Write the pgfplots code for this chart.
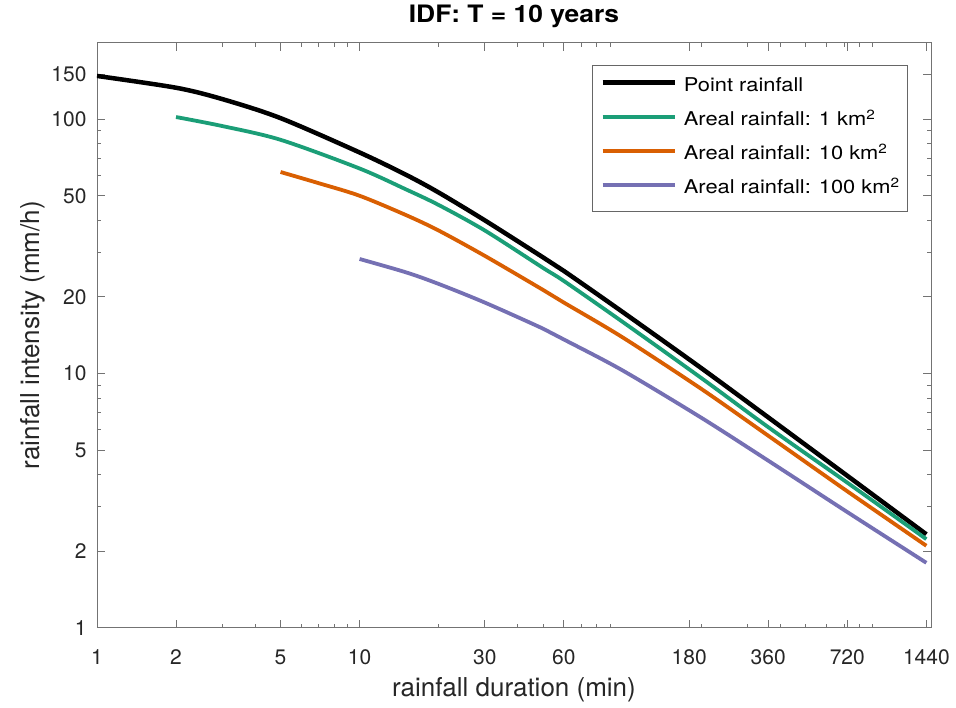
\documentclass[border=0pt]{standalone}
\usepackage{pgfplots}
\pgfplotsset{compat=1.18}
\usepackage{fontspec}
\setmainfont{TeX Gyre Heros}
\newfontfamily\wide[FakeStretch=1.15]{TeX Gyre Heros}
\newfontfamily\widet[FakeStretch=1.1]{TeX Gyre Heros}
\definecolor{cgreen}{HTML}{1B9E77}
\definecolor{corange}{HTML}{D95F02}
\definecolor{cpurple}{HTML}{7570B3}
\definecolor{txt}{HTML}{262626}
\begin{document}
\begin{tikzpicture}
\begin{axis}[
  scale only axis,
  width=834pt, height=585pt,
  xmode=log, ymode=log,
  xmin=1, xmax=1500, ymin=1, ymax=200,
  /pgf/number format/assume math mode=true,
  xtick={1,2,5,10,30,60,180,360,720,1440},
  xticklabels={1,2,5,10,30,60,180,360,720,1440},
  minor xtick={3,4,6,7,8,9,20,40,50,70,80,90,200,300,400,500,600,700,800,900},
  ytick={1,2,5,10,20,50,100,150},
  yticklabels={1,2,5,10,20,50,100,150},
  minor ytick={3,4,6,7,8,9,30,40,60,70,80,90},
  tick align=inside,
  major tick length=8pt, minor tick length=4pt,
  axis line style={black!55, line width=0.9pt},
  every tick/.style={black!55, line width=0.9pt},
  every minor tick/.style={black!55, line width=0.9pt},
  tick label style={font=\fontsize{21}{24}\selectfont, text=txt},
  xticklabel style={anchor=base, yshift=-37pt},
  yticklabel style={anchor=east, xshift=-7pt},
  xlabel={rainfall duration (min)},
  ylabel={rainfall intensity (mm/h)},
  label style={font=\fontsize{26}{30}\selectfont, text=txt},
  xlabel style={at={(rel axis cs:0.5,0)}, anchor=base, yshift=-69pt},
  ylabel style={at={(rel axis cs:0,0.5)}, anchor=base, yshift=57pt},
  title={IDF: T = 10 years},
  title style={font=\widet\bfseries\fontsize{24}{28}\selectfont, text=black, at={(rel axis cs:0.5,1)}, anchor=base, yshift=13.7pt},
  legend cell align=left,
  legend style={at={(rel axis cs:1,1)}, anchor=north east, xshift=-23pt, yshift=-22pt,
    draw=black!60, line width=0.9pt, font=\wide\fontsize{19}{22}\selectfont,
    row sep=17pt, column sep=0pt, inner xsep=8pt, inner ysep=13.5pt,
    nodes={text=black, inner sep=0pt, text height=13pt, text depth=4pt}},
  legend image code/.code={\draw[#1] (6pt,4.5pt) -- (78pt,4.5pt) (85pt,0pt);},
]
\addplot[black, line width=4.5pt, smooth] coordinates {
 (1,148) (2,133) (3,120) (5,101) (10,74) (15,60.5) (20,51.5) (30,40) (50,28.6) (60,25.3) (100,17.5) (200,10.5) (360,6.72) (720,3.96) (1440,2.33)};
\addlegendentry{Point rainfall}
\addplot[cgreen, line width=3.8pt, smooth] coordinates {
 (2,102) (3,94) (5,83) (10,64) (15,53) (20,46) (30,36.5) (50,26) (60,23.1) (100,16) (200,9.6) (360,6.15) (720,3.72) (1440,2.23)};
\addlegendentry{Areal rainfall: 1 km\textsuperscript{2}}
\addplot[corange, line width=3.8pt, smooth] coordinates {
 (5,62) (7,56) (10,50) (15,42) (20,36.5) (30,29) (50,21.3) (60,19) (100,13.9) (200,8.7) (360,5.69) (720,3.44) (1440,2.10)};
\addlegendentry{Areal rainfall: 10 km\textsuperscript{2}}
\addplot[cpurple, line width=3.8pt, smooth] coordinates {
 (10,28.2) (15,25) (20,22.5) (30,19) (50,15) (60,13.6) (100,10.3) (200,6.7) (360,4.54) (720,2.85) (1440,1.80)};
\addlegendentry{Areal rainfall: 100 km\textsuperscript{2}}
\end{axis}
\pgfresetboundingbox
\path ([shift={(-97pt,-79.3pt)}]current axis.south west) rectangle ([shift={(25pt,42.7pt)}]current axis.north east);
\end{tikzpicture}
\end{document}
